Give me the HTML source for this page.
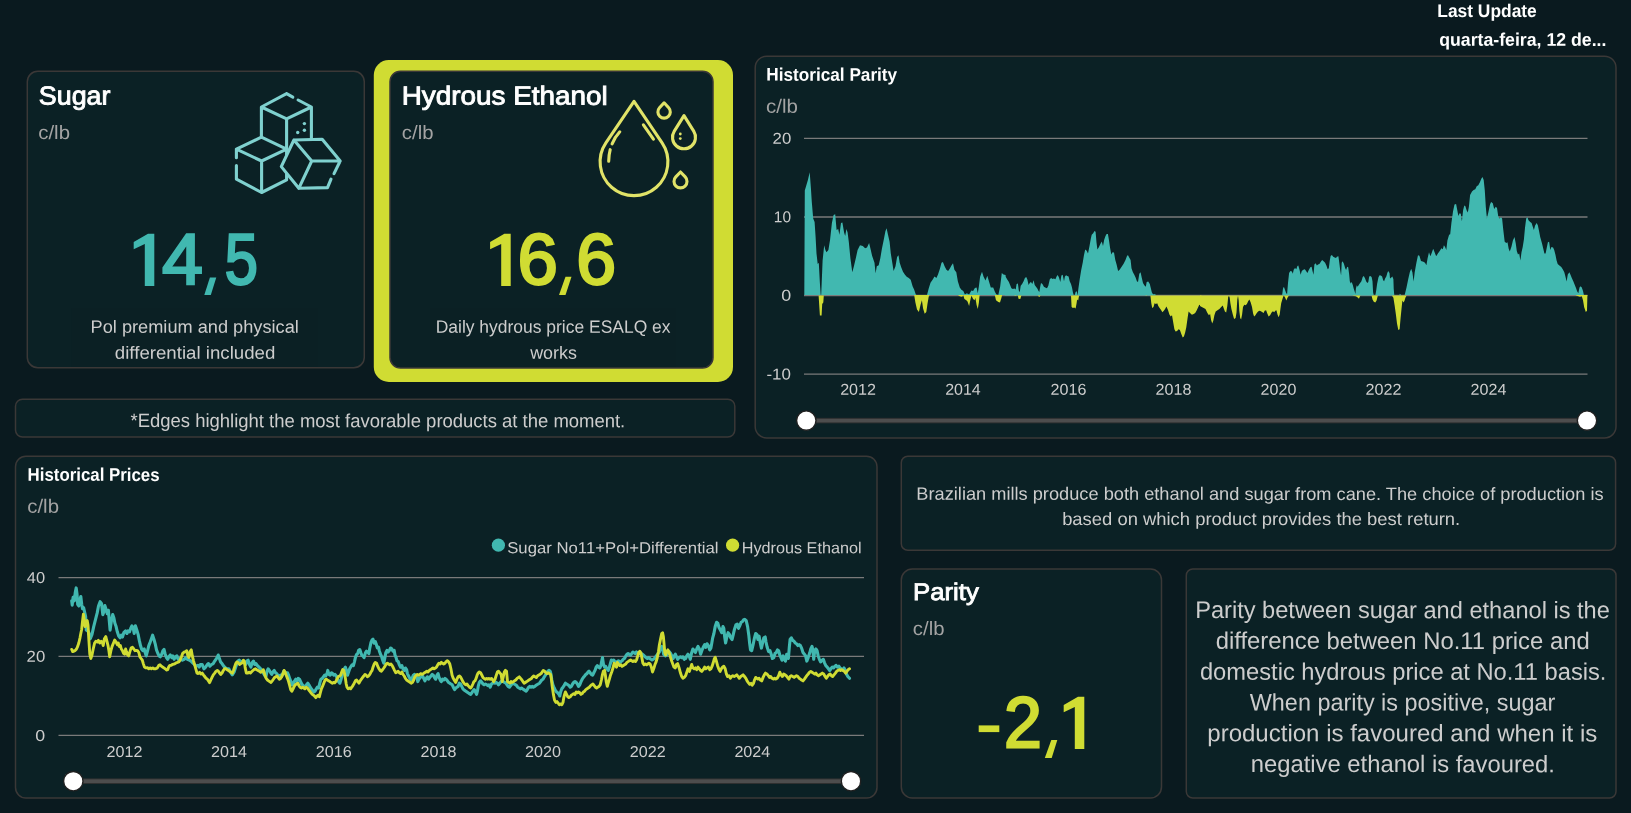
<!DOCTYPE html><html><head><meta charset="utf-8"><title>Sugar vs Ethanol Parity</title><style>

html,body{margin:0;padding:0;}
body{width:1631px;height:813px;overflow:hidden;background:#0a1a1f;font-family:"Liberation Sans",sans-serif;position:relative;}
.card{position:absolute;box-sizing:border-box;background:#0b2125;border:1px solid #3b3837;}
.t{position:absolute;white-space:nowrap;line-height:1;transform-origin:0 0;font-family:"Liberation Sans",sans-serif;}
svg{position:absolute;left:0;top:0;}

</style></head><body>
<svg width="1631" height="813" viewBox="0 0 1631 813"><rect x="27.3" y="71.3" width="337.0" height="296.4" rx="10.5" fill="#0b2125" stroke="#3b3837" stroke-width="1.5"/><rect x="373.8" y="60" width="359.2" height="322" rx="15" fill="#d0dc33"/><rect x="390" y="71.2" width="323" height="296.8" rx="10.5" fill="#0b2125" stroke="#3b3837" stroke-width="1.5"/><rect x="15.5" y="399.2" width="719.3" height="37.80000000000001" rx="7" fill="#0b2125" stroke="#3b3837" stroke-width="1.5"/><rect x="755.2" y="56.2" width="860.8" height="381.8" rx="11.5" fill="#0b2125" stroke="#3b3837" stroke-width="1.5"/><rect x="15.5" y="456.2" width="861.5" height="341.8" rx="10.5" fill="#0b2125" stroke="#3b3837" stroke-width="1.5"/><rect x="901.3" y="456.2" width="714.3" height="94.09999999999997" rx="6.5" fill="#0b2125" stroke="#3b3837" stroke-width="1.5"/><rect x="901.3" y="569" width="260.20000000000005" height="229" rx="11" fill="#0b2125" stroke="#3b3837" stroke-width="1.5"/><rect x="1186.3" y="569" width="429.70000000000005" height="229" rx="6.5" fill="#0b2125" stroke="#3b3837" stroke-width="1.5"/><rect x="71.5" y="308" width="246.5" height="58.5" fill="#0b2024"/><rect x="430" y="308" width="246" height="58.5" fill="#0b2024"/></svg>
<svg width="1631" height="813" viewBox="0 0 1631 813"><line x1="804" y1="138.4" x2="1587.5" y2="138.4" stroke="#7a7a7a" stroke-width="1.3"/><line x1="804" y1="217" x2="1587.5" y2="217" stroke="#7a7a7a" stroke-width="1.3"/><line x1="804" y1="295.5" x2="1587.5" y2="295.5" stroke="#7a7a7a" stroke-width="1.3"/><line x1="804" y1="374.1" x2="1587.5" y2="374.1" stroke="#7a7a7a" stroke-width="1.3"/><path d="M804.3,295.1 L804.8,190.4 L806.2,185.7 L807.9,179.9 L809.7,172.2 L810.9,188.0 L811.8,202.1 L813.2,218.4 L814.6,221.9 L815.6,237.1 L816.5,253.5 L817.7,264.0 L818.8,262.8 L819.8,281.5 L820.7,295.1Z" fill="#41b8b0"/><path d="M821.2,295.1 L822.6,260.5 L824.2,245.3 L825.4,250.0 L826.5,252.3 L828.4,250.0 L830.1,239.5 L831.9,223.1 L833.6,214.9 L835.2,214.2 L836.6,230.1 L838.2,228.9 L839.4,234.8 L841.0,223.1 L842.4,222.6 L844.1,232.4 L845.2,236.0 L846.4,228.9 L847.6,232.4 L848.8,241.8 L850.4,258.2 L852.3,272.2 L853.9,266.3 L855.8,258.2 L857.6,250.0 L860.0,245.3 L862.8,246.0 L865.1,248.3 L867.0,247.6 L869.1,243.0 L870.5,248.8 L872.1,255.8 L874.5,262.8 L875.6,273.3 L876.8,266.3 L878.7,265.2 L880.3,258.2 L881.9,248.8 L883.8,239.5 L885.4,231.3 L886.6,228.2 L888.0,234.8 L889.6,241.8 L890.8,253.5 L892.5,264.0 L893.6,271.0 L895.5,266.3 L897.1,257.0 L898.5,255.3 L899.7,262.8 L901.3,267.5 L903.0,271.7 L904.8,274.5 L906.7,276.8 L908.8,278.0 L910.7,279.7 L912.6,286.2 L914.2,289.7 L915.8,294.4 L916.5,295.1Z" fill="#41b8b0"/><path d="M927.0,295.1 L928.7,288.5 L930.5,282.7 L932.9,279.2 L934.5,276.4 L936.4,278.0 L938.0,274.5 L939.9,268.7 L941.5,262.8 L942.9,262.1 L944.6,266.3 L946.4,269.8 L948.1,271.0 L949.7,268.7 L951.6,265.2 L953.0,263.3 L954.4,269.8 L956.3,272.2 L957.9,281.5 L959.8,287.4 L961.4,289.7 L963.3,290.9 L964.9,294.4 L966.8,293.2 L969.1,294.4 L971.4,290.4 L973.1,290.9 L974.9,288.1 L976.6,287.4 L977.8,293.2 L978.9,286.2 L980.1,276.8 L982.0,271.7 L983.6,276.8 L985.5,280.4 L987.3,275.7 L989.0,281.5 L990.8,287.4 L993.2,287.4 L995.0,292.0 L996.4,294.4 L998.3,295.1Z" fill="#41b8b0"/><path d="M998.3,295.1 L1000.2,286.2 L1001.8,272.9 L1003.5,274.5 L1005.6,275.0 L1005.6,295.1Z" fill="#41b8b0"/><path d="M1004.8,295.4 L1004.8,276.0 L1006.1,277.5 L1007.4,279.7 L1008.9,282.1 L1010.1,284.9 L1011.4,288.2 L1012.9,288.9 L1014.4,288.6 L1015.7,289.5 L1016.6,283.9 L1017.9,283.4 L1018.8,290.4 L1019.7,292.3 L1020.7,285.8 L1022.1,283.9 L1023.6,281.2 L1024.9,277.9 L1026.2,277.1 L1027.3,279.3 L1028.6,284.9 L1029.9,282.7 L1031.0,282.1 L1032.3,283.9 L1033.6,280.3 L1034.7,284.9 L1036.0,286.7 L1037.3,288.6 L1038.4,290.8 L1039.3,291.9 L1040.2,286.7 L1041.0,283.0 L1042.4,283.9 L1043.9,286.7 L1045.2,287.6 L1047.0,288.2 L1048.3,285.8 L1049.8,279.3 L1051.1,277.9 L1052.6,279.0 L1053.9,278.4 L1055.4,279.3 L1056.6,276.6 L1057.7,275.1 L1059.0,277.5 L1060.3,282.1 L1061.4,275.6 L1062.7,274.7 L1064.0,281.2 L1064.9,276.6 L1066.1,275.3 L1067.3,276.0 L1068.6,276.6 L1069.7,281.2 L1071.0,283.9 L1072.0,287.6 L1072.9,292.3 L1073.8,295.4Z" fill="#41b8b0"/><path d="M1074.7,295.4 L1075.6,291.9 L1076.8,291.3 L1077.5,295.4Z" fill="#41b8b0"/><path d="M1077.5,295.4 L1078.4,288.6 L1079.7,279.3 L1081.2,270.1 L1082.7,262.7 L1083.9,255.4 L1085.2,249.4 L1086.7,250.7 L1088.0,253.5 L1089.5,246.1 L1090.8,238.7 L1091.7,234.7 L1093.2,233.2 L1094.5,231.0 L1095.6,231.7 L1096.5,242.4 L1097.4,249.4 L1098.7,247.6 L1100.6,243.4 L1101.8,241.5 L1103.0,246.1 L1104.2,239.7 L1105.5,236.0 L1106.6,234.1 L1107.9,234.1 L1108.9,239.7 L1110.1,248.0 L1111.3,254.4 L1112.5,252.2 L1114.0,252.6 L1115.3,260.0 L1116.6,264.6 L1118.1,271.0 L1119.6,269.7 L1121.8,266.4 L1123.6,263.7 L1125.5,260.0 L1126.9,256.3 L1127.9,255.0 L1129.2,257.6 L1130.6,260.0 L1131.5,268.3 L1132.8,272.0 L1134.3,274.7 L1135.6,277.5 L1136.9,281.2 L1138.0,282.1 L1139.3,273.8 L1140.6,272.3 L1141.7,277.5 L1143.0,283.0 L1144.3,285.2 L1145.8,286.7 L1146.7,282.1 L1148.2,281.5 L1149.8,283.9 L1150.9,288.6 L1151.8,292.3 L1152.8,294.1 L1154.1,294.5 L1155.0,293.7 L1155.9,295.4Z" fill="#41b8b0"/><path d="M1282.1,295.4 L1283.0,288.6 L1283.9,286.7 L1285.2,290.4 L1286.2,293.2 L1287.1,294.1 L1288.0,283.0 L1289.1,272.9 L1290.4,271.0 L1291.9,271.6 L1292.8,273.8 L1293.7,269.7 L1295.0,267.9 L1296.3,269.2 L1297.4,266.1 L1298.3,265.5 L1299.6,270.1 L1300.6,274.7 L1301.8,271.0 L1303.3,269.7 L1304.8,269.2 L1306.1,271.0 L1307.4,272.9 L1308.9,269.7 L1310.3,267.3 L1311.6,266.8 L1312.5,271.0 L1313.5,274.7 L1314.4,264.6 L1315.7,263.3 L1316.8,265.5 L1318.1,264.6 L1319.6,263.7 L1320.8,261.8 L1322.1,260.0 L1323.6,261.3 L1325.1,262.7 L1326.4,265.5 L1327.7,269.2 L1328.8,268.3 L1329.7,260.9 L1330.6,255.9 L1331.9,255.0 L1333.2,256.8 L1334.7,257.6 L1336.0,258.1 L1336.9,256.8 L1338.4,256.3 L1339.3,262.7 L1340.2,270.1 L1341.1,275.6 L1341.7,262.7 L1342.6,261.3 L1343.9,263.7 L1345.2,268.3 L1346.1,270.1 L1347.2,266.8 L1348.2,267.3 L1349.1,273.8 L1349.8,281.2 L1350.7,283.4 L1351.7,282.1 L1352.8,284.9 L1353.7,288.6 L1354.6,291.3 L1355.4,294.1 L1355.9,288.6 L1356.8,285.2 L1357.7,286.7 L1358.7,284.9 L1360.1,283.0 L1361.4,281.2 L1362.7,277.1 L1363.8,276.0 L1365.1,278.4 L1366.1,281.2 L1367.3,283.0 L1368.3,282.1 L1369.2,276.6 L1370.3,276.0 L1371.6,277.1 L1372.5,281.2 L1373.1,292.3 L1373.8,295.4Z" fill="#41b8b0"/><path d="M1375.3,295.4 L1376.2,290.4 L1377.1,283.9 L1378.4,277.5 L1379.5,275.3 L1380.8,275.6 L1382.1,276.6 L1383.2,280.3 L1384.1,281.2 L1385.1,278.4 L1386.3,276.6 L1387.3,272.9 L1388.2,271.0 L1389.5,272.9 L1390.0,278.4 L1391.3,277.5 L1392.4,276.6 L1393.4,279.3 L1393.7,288.6 L1394.3,295.4Z" fill="#41b8b0"/><path d="M1399.3,295.4 L1399.8,293.7 L1400.7,294.5 L1401.1,295.4Z" fill="#41b8b0"/><path d="M1404.7,295.1 L1406.5,287.4 L1408.2,279.2 L1409.8,272.2 L1411.2,268.7 L1412.4,272.2 L1413.6,281.5 L1414.7,272.2 L1416.4,262.8 L1418.0,255.3 L1419.4,255.8 L1421.0,261.0 L1423.4,261.7 L1425.0,262.8 L1426.4,265.2 L1427.6,258.2 L1429.0,252.3 L1430.4,256.3 L1431.5,253.5 L1433.2,248.8 L1434.6,252.3 L1436.2,256.3 L1437.9,253.5 L1439.7,251.1 L1441.4,248.3 L1442.8,249.3 L1443.9,245.3 L1445.1,246.9 L1446.3,250.0 L1447.4,240.6 L1449.1,234.8 L1450.2,234.3 L1451.4,223.1 L1453.0,211.4 L1454.5,204.4 L1456.1,203.9 L1457.3,210.2 L1458.4,216.1 L1459.6,213.3 L1460.8,213.8 L1461.9,221.2 L1463.1,210.2 L1464.3,205.6 L1465.4,206.3 L1466.6,210.2 L1467.8,212.6 L1468.9,206.7 L1470.1,195.1 L1472.0,191.5 L1473.6,189.9 L1475.3,189.2 L1476.7,186.2 L1478.3,185.2 L1479.9,182.2 L1481.3,178.7 L1482.5,177.1 L1483.7,179.9 L1484.8,190.4 L1485.8,206.7 L1486.9,218.4 L1488.3,212.6 L1490.0,204.4 L1491.1,202.1 L1492.8,203.2 L1494.2,209.1 L1495.8,206.7 L1497.0,207.9 L1498.2,216.1 L1499.3,218.4 L1501.0,217.3 L1502.1,218.4 L1503.3,230.1 L1504.7,241.8 L1506.3,243.0 L1507.5,242.3 L1508.7,248.8 L1509.8,251.6 L1511.5,246.5 L1512.9,240.6 L1514.5,237.1 L1515.7,243.0 L1516.8,251.1 L1518.0,254.6 L1519.2,253.5 L1520.4,260.5 L1521.5,252.3 L1522.7,246.9 L1523.9,239.5 L1525.0,227.8 L1526.2,218.4 L1527.4,217.3 L1528.5,220.3 L1530.2,221.9 L1531.6,223.1 L1532.7,226.6 L1533.9,230.1 L1535.1,225.4 L1536.7,223.1 L1537.9,225.4 L1539.1,231.3 L1540.2,237.1 L1541.9,243.0 L1543.3,248.8 L1544.4,253.5 L1545.6,253.5 L1546.8,247.6 L1547.9,242.3 L1549.1,241.8 L1550.3,250.0 L1551.4,246.9 L1553.1,247.6 L1554.2,250.0 L1555.4,254.6 L1556.6,260.5 L1557.7,264.0 L1559.4,265.6 L1561.3,267.0 L1562.9,269.4 L1564.3,272.2 L1565.5,276.8 L1566.6,281.5 L1567.8,274.5 L1569.4,272.2 L1570.6,275.0 L1571.8,278.0 L1573.4,281.5 L1574.8,285.0 L1576.0,288.1 L1577.1,291.3 L1578.3,293.2 L1579.5,287.4 L1580.6,286.2 L1581.8,287.4 L1583.0,290.9 L1583.9,295.1Z" fill="#41b8b0"/><path d="M818.6,295.4 L819.4,308.0 L819.9,315.6 L821.6,315.6 L822.2,304.0 L823.3,302.5 L823.8,295.4Z" fill="#d0dc33"/><path d="M914.2,295.1 L915.4,302.6 L917.0,309.6 L918.9,311.9 L920.5,304.9 L921.9,300.2 L923.1,308.4 L924.7,313.8 L926.3,311.9 L927.5,303.7 L928.7,296.7 L929.4,295.1Z" fill="#d0dc33"/><path d="M957.9,295.1 L959.8,296.2 L962.1,296.7 L963.3,295.1Z" fill="#d0dc33"/><path d="M963.3,295.1 L964.4,299.1 L966.3,300.2 L967.5,301.4 L969.1,306.1 L970.3,300.2 L971.4,295.5 L973.1,299.1 L974.5,300.2 L975.4,297.9 L976.6,304.9 L977.8,309.1 L978.9,302.6 L979.6,295.1Z" fill="#d0dc33"/><path d="M994.8,295.1 L996.0,300.2 L998.3,302.1 L1000.0,302.6 L1001.4,297.9 L1002.1,295.1Z" fill="#d0dc33"/><path d="M1071.0,295.4 L1071.6,307.0 L1072.9,307.9 L1074.2,307.6 L1075.6,308.5 L1076.6,303.3 L1077.1,299.6 L1078.2,300.6 L1079.0,295.9 L1079.3,295.4Z" fill="#d0dc33"/><path d="M1013.8,295.4 L1015.7,296.1 L1016.6,295.4Z" fill="#d0dc33"/><path d="M1017.9,295.4 L1018.5,298.7 L1020.3,299.1 L1021.2,295.9 L1021.6,295.4Z" fill="#d0dc33"/><path d="M1037.8,295.4 L1039.1,297.0 L1040.6,295.4Z" fill="#d0dc33"/><path d="M1145.4,295.4 L1146.1,296.1 L1147.0,295.4Z" fill="#d0dc33"/><path d="M1150.4,295.4 L1151.3,303.3 L1152.2,307.9 L1153.5,307.0 L1154.6,303.3 L1155.9,303.9 L1157.2,303.3 L1158.3,306.1 L1159.6,307.9 L1160.9,309.8 L1162.4,312.2 L1163.8,310.7 L1165.1,308.9 L1166.4,306.6 L1167.9,309.8 L1169.4,314.4 L1170.7,316.6 L1172.0,315.3 L1173.1,321.8 L1174.4,329.2 L1175.6,331.4 L1177.1,331.0 L1178.6,329.2 L1179.9,330.1 L1181.2,333.8 L1182.7,337.5 L1183.9,336.5 L1185.1,332.8 L1186.3,327.3 L1187.6,318.1 L1188.6,311.6 L1190.0,312.9 L1191.9,314.8 L1193.7,314.0 L1195.2,312.9 L1196.5,310.7 L1197.8,307.9 L1199.3,304.8 L1200.7,305.5 L1201.5,306.3 L1201.5,295.4Z" fill="#d0dc33"/><path d="M1200.0,295.4 L1200.0,306.1 L1201.8,307.0 L1203.7,307.9 L1205.5,308.9 L1207.4,312.9 L1208.9,315.3 L1210.1,314.0 L1211.1,319.9 L1212.2,323.6 L1213.3,320.8 L1214.4,315.3 L1215.7,311.6 L1217.5,310.3 L1219.4,308.9 L1221.2,307.0 L1222.7,305.5 L1224.0,308.9 L1224.9,311.6 L1226.2,312.5 L1227.3,306.1 L1228.2,296.9 L1229.0,295.8 L1229.7,297.8 L1230.4,303.3 L1231.4,308.9 L1232.8,314.4 L1234.1,319.0 L1235.6,318.1 L1236.5,312.5 L1237.3,299.6 L1238.0,295.8 L1238.7,300.6 L1239.3,310.7 L1240.2,318.1 L1241.1,319.6 L1242.1,314.4 L1243.0,307.0 L1244.3,304.8 L1245.8,305.2 L1247.0,303.7 L1248.3,301.1 L1249.4,299.6 L1250.7,302.4 L1252.0,307.0 L1253.1,313.5 L1254.1,316.6 L1255.4,315.3 L1256.8,312.9 L1258.1,311.6 L1259.4,310.7 L1260.9,311.3 L1262.4,312.2 L1263.7,312.9 L1264.6,310.7 L1266.1,310.3 L1267.3,313.5 L1268.6,316.6 L1270.1,315.3 L1271.6,312.5 L1272.9,311.3 L1274.2,312.2 L1275.3,310.7 L1276.4,310.3 L1277.5,314.4 L1278.6,317.2 L1279.7,314.4 L1280.4,308.9 L1281.2,303.3 L1282.3,299.6 L1283.4,295.9 L1283.9,295.4Z" fill="#d0dc33"/><path d="M1283.9,295.4 L1285.2,297.8 L1286.3,300.6 L1287.5,297.8 L1288.6,295.9 L1289.5,295.4Z" fill="#d0dc33"/><path d="M1352.2,295.4 L1354.1,295.9 L1355.9,296.3 L1357.7,297.4 L1359.0,298.7 L1360.1,295.9 L1360.5,295.4Z" fill="#d0dc33"/><path d="M1371.6,295.4 L1372.5,299.6 L1373.8,301.8 L1375.3,302.4 L1376.6,300.6 L1377.7,295.9 L1378.0,295.4Z" fill="#d0dc33"/><path d="M1391.9,295.4 L1393.4,297.8 L1394.6,305.2 L1395.9,314.4 L1397.0,323.6 L1398.3,330.1 L1399.6,329.2 L1400.6,318.1 L1401.5,308.9 L1402.4,300.6 L1403.5,302.4 L1404.4,301.1 L1405.4,297.8 L1406.6,295.4Z" fill="#d0dc33"/><path d="M1575.3,295.1 L1577.6,296.0 L1579.9,296.7 L1581.8,296.2 L1583.0,300.2 L1584.2,307.2 L1585.8,311.9 L1587.0,310.7 L1587.4,295.1Z" fill="#d0dc33"/><rect x="806.3" y="418.3" width="780.7" height="4.6" fill="#4d4d4d" stroke="#303030" stroke-width="0.9"/><circle cx="806.3" cy="420.6" r="9.7" fill="#ffffff" stroke="#202020" stroke-width="1.4"/><circle cx="1587" cy="420.6" r="9.7" fill="#ffffff" stroke="#202020" stroke-width="1.4"/><rect x="73.3" y="778.9000000000001" width="777.7" height="4.6" fill="#4d4d4d" stroke="#303030" stroke-width="0.9"/><circle cx="73.3" cy="781.2" r="9.7" fill="#ffffff" stroke="#202020" stroke-width="1.4"/><circle cx="851" cy="781.2" r="9.7" fill="#ffffff" stroke="#202020" stroke-width="1.4"/><line x1="58.5" y1="577.7" x2="864" y2="577.7" stroke="#7a7a7a" stroke-width="1.3"/><line x1="58.5" y1="656.4" x2="864" y2="656.4" stroke="#7a7a7a" stroke-width="1.3"/><line x1="58.5" y1="735.3" x2="864" y2="735.3" stroke="#7a7a7a" stroke-width="1.3"/><path d="M71.7,600.8 L72.2,605.1 L73.1,597.4 L74.3,600.8 L75.3,592.2 L76.2,587.9 L77.0,593.9 L77.7,604.3 L78.8,606.0 L79.6,600.8 L80.8,596.5 L81.7,604.3 L82.5,608.6 L83.6,607.7 L84.6,612.0 L85.6,616.3 L86.3,630.1 L88.6,631.8 L90.3,638.7 L92.0,634.4 L93.7,626.6 L95.4,619.8 L97.2,612.9 L98.5,606.0 L100.1,601.7 L101.5,603.4 L102.8,614.6 L104.1,611.1 L104.9,605.6 L106.1,609.4 L107.2,613.7 L108.4,610.3 L109.2,619.8 L110.1,630.1 L111.3,621.5 L112.7,614.6 L113.9,618.0 L114.9,623.2 L116.1,626.6 L117.3,631.8 L118.7,636.1 L120.1,637.8 L121.3,635.2 L122.5,637.0 L123.8,632.7 L125.6,630.9 L126.9,633.5 L128.1,630.9 L129.5,631.8 L130.7,628.4 L131.9,625.8 L133.3,628.4 L134.2,633.5 L135.4,625.8 L136.8,630.1 L138.1,634.4 L139.3,640.4 L140.5,645.6 L141.6,649.0 L142.8,650.7 L144.2,649.0 L145.4,653.3 L146.2,655.9 L147.6,650.7 L148.8,645.6 L150.2,642.1 L151.4,638.7 L152.6,635.2 L154.0,639.5 L155.2,643.8 L156.5,649.9 L157.8,653.3 L159.1,655.9 L160.3,656.8 L161.7,654.2 L162.9,650.7 L164.0,649.4 L165.2,654.2 L166.5,657.6 L167.7,659.3 L168.9,656.8 L170.3,655.0 L171.7,657.6 L172.9,655.9 L174.1,659.3 L175.5,656.8 L176.9,655.9 L178.1,659.3 L179.3,658.5 L180.6,659.3 L182.4,660.2 L184.1,659.3 L185.8,657.6 L187.5,659.3 L189.3,660.2 L191.0,661.1 L192.7,662.8 L194.4,664.5 L196.1,666.2 L197.9,665.4 L199.2,667.1 L200.4,664.5 L202.2,664.5 L203.9,668.8 L205.6,667.1 L207.3,664.5 L208.5,663.6 L209.9,666.2 L211.6,664.5 L213.3,663.6 L214.7,661.1 L215.9,659.3 L217.1,657.6 L218.2,655.0 L219.4,658.5 L220.6,661.9 L222.0,663.6 L223.7,666.2 L225.4,667.9 L227.1,668.8 L228.8,668.8 L230.6,672.2 L232.3,674.8 L234.0,672.2 L235.4,667.9 L236.6,664.5 L238.0,661.1 L239.2,660.2 L240.9,661.9 L242.6,661.1 L244.3,662.8 L245.7,664.5 L246.9,661.1 L248.1,660.2 L249.5,664.5 L250.9,667.1 L252.1,662.8 L253.5,661.1 L254.7,664.5 L256.0,663.6 L257.2,665.4 L259.0,667.1 L260.7,668.8 L262.4,671.4 L264.6,675.2 L265.9,676.8 L267.0,671.2 L268.1,668.8 L269.4,670.4 L270.7,672.8 L271.8,674.4 L272.9,672.0 L274.2,670.4 L275.5,672.8 L276.6,673.6 L277.9,675.2 L279.0,676.0 L280.3,675.2 L281.4,676.8 L282.5,674.4 L283.8,671.2 L285.1,672.0 L286.2,674.4 L287.5,672.8 L288.6,675.2 L289.9,679.2 L291.0,681.6 L292.3,684.8 L293.4,683.2 L294.7,680.8 L295.8,679.2 L296.9,681.6 L298.2,678.4 L299.5,679.2 L300.6,681.6 L301.7,684.0 L303.0,685.6 L304.3,686.4 L305.4,687.2 L306.5,684.8 L307.8,683.2 L308.9,684.8 L310.2,687.2 L311.3,688.8 L312.6,690.4 L313.9,692.0 L315.0,691.2 L316.3,688.8 L317.4,687.2 L318.7,688.0 L319.8,683.2 L320.9,679.2 L322.2,678.4 L323.5,676.8 L324.6,675.2 L325.7,676.0 L327.0,673.6 L327.8,670.4 L328.9,674.4 L330.2,675.2 L331.5,672.8 L332.6,673.6 L333.7,675.2 L335.0,674.4 L336.3,676.0 L337.4,679.2 L338.5,681.6 L339.8,683.2 L341.1,679.2 L342.2,675.2 L343.3,671.2 L344.3,668.8 L345.4,667.2 L346.5,670.4 L347.5,675.2 L348.6,672.0 L349.7,668.8 L351.0,666.4 L352.2,664.8 L353.4,665.6 L354.5,661.6 L355.4,657.6 L356.6,654.4 L357.7,653.6 L358.6,650.4 L359.8,649.6 L360.9,652.8 L361.8,655.2 L363.0,656.0 L364.1,657.6 L365.4,652.8 L366.5,651.2 L367.8,652.0 L368.9,653.6 L369.8,648.0 L371.0,642.4 L372.1,640.0 L373.0,639.2 L374.2,643.2 L375.3,641.6 L376.2,644.0 L377.4,648.0 L378.5,647.2 L379.4,651.2 L380.6,654.4 L381.7,656.8 L382.6,660.0 L383.8,663.2 L384.9,657.6 L385.8,652.8 L387.0,650.4 L388.1,652.0 L389.4,650.4 L390.6,648.0 L391.8,648.8 L392.9,651.2 L394.2,650.4 L395.0,655.2 L396.1,657.6 L397.0,660.8 L398.2,661.6 L399.3,664.8 L400.6,667.2 L401.8,665.6 L403.0,668.8 L404.2,670.4 L405.4,668.0 L406.6,669.6 L407.4,673.6 L408.6,676.0 L409.8,678.4 L411.0,680.0 L412.1,678.4 L413.3,675.2 L414.6,674.4 L415.7,675.2 L416.9,677.6 L417.8,681.6 L418.9,679.2 L420.2,677.6 L421.3,676.8 L422.6,676.0 L423.7,678.4 L424.9,680.8 L426.1,678.4 L427.4,676.8 L428.5,679.2 L429.7,677.6 L430.9,676.0 L432.2,674.4 L433.3,675.2 L434.5,677.6 L435.7,679.2 L437.0,675.2 L438.1,673.6 L438.9,676.8 L440.2,680.0 L441.3,681.6 L442.5,679.2 L443.7,680.0 L445.0,678.4 L446.1,679.2 L447.4,680.8 L448.5,682.4 L449.8,683.2 L450.9,684.0 L452.2,684.8 L453.3,687.2 L454.6,689.6 L455.7,688.0 L456.9,687.2 L458.1,686.4 L459.4,683.2 L460.5,684.0 L461.7,686.4 L462.9,688.8 L464.6,690.4 L465.9,691.2 L467.0,692.0 L468.1,692.8 L469.4,693.6 L470.7,694.4 L471.8,692.8 L472.9,691.2 L474.2,689.6 L475.5,692.0 L476.6,694.4 L477.4,691.2 L478.2,686.4 L479.3,682.4 L480.6,680.8 L481.9,682.4 L483.0,684.0 L484.1,684.8 L485.4,684.0 L486.7,684.8 L487.8,685.6 L488.9,684.8 L490.2,687.2 L491.5,684.0 L492.6,683.2 L493.7,682.4 L495.0,683.2 L496.3,682.4 L497.4,683.2 L498.5,684.8 L499.8,683.2 L501.1,681.6 L502.2,680.8 L503.3,681.6 L504.6,682.4 L505.9,683.2 L507.0,684.8 L508.1,686.4 L509.4,687.2 L510.7,685.6 L511.8,684.0 L512.9,683.2 L514.2,684.0 L515.5,684.8 L516.6,685.6 L517.7,687.2 L519.0,688.0 L520.3,688.8 L521.4,688.0 L522.5,688.8 L523.8,689.6 L525.1,690.4 L526.2,691.2 L527.3,689.6 L528.6,687.2 L529.9,686.4 L531.0,687.2 L532.1,686.4 L533.4,687.2 L534.7,686.4 L535.8,685.6 L536.9,684.8 L538.2,684.0 L539.5,683.2 L540.6,681.6 L541.7,680.0 L543.0,679.2 L544.3,676.8 L545.4,675.2 L546.5,673.6 L547.8,671.2 L549.0,670.4 L550.2,671.2 L551.0,674.4 L551.8,680.0 L552.9,684.8 L554.2,688.0 L555.4,690.4 L556.6,692.0 L557.7,692.8 L559.0,694.4 L559.8,696.0 L560.6,692.0 L561.8,688.8 L563.0,687.2 L564.1,685.6 L565.4,683.2 L566.6,684.0 L567.8,684.8 L568.9,685.6 L570.2,687.2 L571.4,686.4 L572.6,684.0 L573.7,682.4 L575.0,681.6 L576.2,682.4 L577.4,684.0 L578.5,686.4 L579.8,684.8 L581.0,681.6 L582.2,679.2 L583.3,677.6 L584.6,676.0 L585.8,674.4 L587.0,673.6 L588.1,672.0 L589.0,671.2 L590.2,672.8 L591.3,674.4 L592.6,675.2 L593.8,672.8 L595.0,670.4 L596.1,667.2 L597.4,665.6 L598.6,667.2 L599.8,668.0 L600.9,665.6 L601.8,660.8 L602.5,657.6 L603.4,664.0 L604.6,667.2 L605.7,666.4 L607.0,668.8 L608.2,670.4 L609.4,667.2 L610.5,663.2 L611.4,660.0 L612.5,660.8 L613.7,660.0 L614.9,661.6 L616.2,662.4 L617.3,661.6 L618.5,660.8 L619.7,662.4 L621.0,661.6 L622.1,660.8 L623.3,659.2 L624.5,658.4 L625.8,656.0 L626.9,654.4 L628.1,653.6 L629.3,654.4 L630.6,655.2 L631.7,653.6 L632.9,652.0 L634.1,652.8 L635.4,653.6 L636.5,652.0 L637.7,652.8 L638.9,653.6 L640.2,652.8 L641.3,653.6 L642.5,654.4 L643.7,655.2 L645.0,656.8 L646.1,657.6 L647.3,658.4 L648.5,657.6 L649.8,658.4 L650.9,659.2 L652.1,660.0 L653.3,659.2 L654.6,658.4 L655.7,656.8 L656.9,655.2 L658.1,653.6 L659.4,652.0 L660.5,648.8 L661.7,646.4 L662.6,648.0 L663.7,654.4 L665.3,655.9 L666.7,655.0 L667.9,653.3 L669.1,651.6 L670.5,653.3 L671.9,655.9 L673.1,658.5 L674.3,655.9 L675.3,654.2 L676.5,656.8 L677.7,659.3 L679.1,657.6 L680.5,656.8 L681.7,657.6 L682.9,656.8 L684.3,659.3 L685.6,658.5 L686.8,655.9 L688.0,654.2 L689.4,656.8 L690.3,659.3 L691.5,653.3 L692.9,649.0 L694.2,650.7 L695.4,652.5 L696.7,649.0 L698.0,646.4 L699.4,649.0 L700.6,654.2 L701.8,650.7 L703.2,647.3 L704.6,644.7 L705.8,647.3 L707.0,643.8 L708.4,645.6 L709.7,649.9 L710.9,648.1 L711.8,643.0 L712.7,637.8 L713.9,633.5 L715.2,626.6 L716.6,622.3 L717.8,623.2 L719.0,627.5 L720.4,630.1 L721.8,632.7 L723.0,626.6 L723.8,628.4 L724.7,637.0 L725.6,643.0 L726.9,637.0 L728.1,632.7 L729.4,634.4 L730.7,637.8 L732.1,639.5 L733.3,634.4 L734.5,629.2 L735.9,624.9 L737.3,624.1 L738.5,628.4 L739.7,625.8 L741.1,622.3 L742.4,621.5 L743.6,619.8 L744.8,619.4 L746.2,620.6 L747.6,626.6 L748.8,635.2 L749.7,643.8 L750.5,649.9 L751.7,650.7 L753.1,644.7 L754.5,637.8 L755.7,633.5 L756.9,634.4 L757.9,639.5 L759.1,636.1 L760.3,643.0 L761.4,648.1 L762.6,643.0 L763.8,637.8 L765.2,637.0 L766.0,642.1 L767.2,647.3 L768.6,651.6 L770.0,650.7 L771.2,654.2 L772.4,658.5 L773.8,657.6 L775.1,653.3 L776.3,652.5 L777.5,649.9 L778.6,650.7 L779.8,655.0 L781.0,657.6 L782.0,660.2 L783.2,655.9 L784.4,659.3 L785.5,661.1 L786.7,654.2 L787.5,655.9 L788.4,658.5 L789.3,647.3 L790.1,639.5 L791.3,637.8 L792.7,640.4 L794.1,641.3 L795.3,643.0 L796.5,643.8 L797.9,645.6 L799.2,644.7 L800.4,645.6 L801.6,648.1 L803.0,652.5 L804.4,654.2 L805.6,655.9 L806.8,661.1 L808.2,657.6 L809.6,653.3 L810.8,649.0 L812.0,646.4 L813.0,650.7 L813.7,659.3 L814.7,650.7 L815.9,649.0 L817.1,650.7 L818.2,655.9 L819.4,659.3 L820.6,661.9 L822.0,660.2 L823.3,659.3 L824.5,662.8 L825.7,665.4 L827.1,667.1 L828.5,668.8 L829.7,670.5 L830.9,668.8 L832.3,667.1 L833.7,667.9 L834.9,666.2 L836.1,665.4 L837.4,667.1 L838.8,666.2 L840.0,667.9 L841.2,668.8 L842.6,669.7 L844.0,667.9 L845.2,670.5 L846.4,674.0 L847.8,676.5 L849.5,678.3" fill="none" stroke="#41b8b0" stroke-width="3.1" stroke-linejoin="round" stroke-linecap="round"/><path d="M71.7,649.4 L72.7,651.6 L73.9,651.1 L75.3,650.4 L76.5,649.0 L77.7,646.4 L78.8,643.0 L80.0,637.8 L80.8,633.5 L81.7,629.2 L82.5,621.5 L83.4,614.2 L84.3,619.8 L85.1,626.6 L86.0,624.1 L87.2,620.6 L88.0,624.9 L88.9,640.4 L89.8,654.2 L90.8,658.5 L92.0,655.0 L93.2,649.0 L94.6,643.0 L95.8,641.3 L97.2,642.1 L98.4,640.4 L99.8,643.0 L101.1,641.3 L102.3,642.1 L103.2,645.6 L104.4,638.7 L105.8,636.6 L107.0,641.3 L108.0,645.6 L108.9,650.7 L109.7,656.8 L110.9,650.7 L112.1,646.4 L113.5,643.0 L114.7,640.1 L116.1,642.1 L117.3,644.7 L118.3,643.0 L119.2,646.4 L120.4,645.6 L121.3,649.0 L122.5,650.7 L123.5,653.3 L124.7,654.2 L125.6,649.0 L126.4,651.6 L127.6,655.0 L128.7,655.9 L129.9,651.6 L131.1,648.1 L132.5,647.3 L133.8,649.0 L135.0,650.7 L136.2,650.4 L137.6,650.7 L138.8,652.5 L139.9,656.8 L141.1,658.5 L142.3,660.2 L143.3,663.6 L144.5,667.1 L145.9,667.9 L147.4,667.6 L148.8,668.8 L150.2,667.9 L151.4,668.8 L152.8,667.9 L154.0,668.8 L155.7,668.8 L157.4,667.9 L158.8,665.4 L160.0,664.8 L161.4,666.2 L162.6,667.1 L164.0,667.9 L165.2,668.8 L166.5,670.0 L167.7,669.7 L168.6,667.1 L169.8,665.4 L171.2,665.4 L172.4,664.5 L173.8,664.2 L175.1,663.6 L176.3,662.8 L177.5,662.4 L178.9,661.9 L180.1,660.2 L181.5,656.8 L182.7,653.3 L184.1,652.1 L185.5,651.6 L186.7,650.7 L187.9,655.9 L188.9,657.6 L190.1,651.6 L191.3,649.9 L192.3,655.9 L193.6,661.1 L194.8,665.4 L195.8,668.8 L197.0,673.1 L198.2,673.5 L199.6,672.2 L200.8,674.0 L202.2,673.1 L203.4,674.8 L204.7,676.5 L206.1,678.3 L207.3,679.1 L208.5,680.9 L209.6,682.6 L210.8,680.0 L212.0,677.4 L213.3,674.8 L214.7,673.1 L215.9,671.4 L217.3,670.5 L218.5,671.4 L219.7,673.1 L220.7,674.5 L222.0,673.1 L223.3,670.5 L224.5,668.8 L225.9,668.8 L227.1,669.7 L228.5,670.5 L229.7,671.4 L230.9,672.2 L232.3,673.1 L233.5,670.5 L234.5,667.1 L235.7,663.6 L236.9,661.9 L238.3,662.8 L239.5,664.5 L240.9,663.6 L242.3,662.8 L243.5,660.2 L244.3,661.1 L245.2,667.9 L246.4,673.1 L247.8,673.1 L249.1,672.2 L250.4,673.1 L251.6,671.7 L252.9,670.5 L254.3,669.3 L255.5,668.8 L256.7,669.7 L258.1,670.5 L259.5,671.4 L260.7,672.2 L262.1,671.4 L263.3,669.7 L264.9,675.2 L266.2,678.4 L267.5,680.0 L268.6,680.8 L269.7,681.6 L271.0,682.4 L272.3,680.8 L273.4,679.2 L274.5,677.6 L275.8,676.8 L277.1,676.0 L278.2,677.6 L279.3,679.2 L280.6,678.4 L281.7,676.8 L283.0,673.6 L284.1,670.4 L285.1,672.0 L286.2,675.2 L287.5,678.4 L288.6,681.6 L289.7,685.6 L290.7,689.6 L291.8,691.2 L293.1,688.8 L294.2,686.4 L295.3,684.8 L296.6,684.0 L297.9,683.2 L299.0,685.6 L300.1,687.2 L301.4,688.0 L302.7,687.2 L303.8,688.0 L304.9,688.8 L306.2,687.2 L307.5,688.0 L308.6,689.6 L309.7,691.2 L311.0,692.8 L312.3,694.4 L313.4,695.2 L314.5,696.0 L315.8,697.6 L317.1,696.0 L318.2,695.2 L319.3,696.8 L320.3,692.8 L321.4,688.8 L322.5,686.4 L323.8,683.2 L325.1,680.0 L326.2,679.2 L327.3,680.0 L328.6,680.8 L329.9,681.6 L331.0,682.4 L332.1,683.2 L333.4,682.4 L334.7,682.9 L335.8,681.6 L336.9,679.2 L338.2,676.8 L339.5,676.0 L340.6,675.2 L341.7,672.0 L342.7,669.6 L343.8,670.4 L344.6,673.6 L345.4,678.4 L346.2,684.0 L347.0,687.2 L348.1,688.8 L349.4,688.0 L350.6,688.8 L351.8,687.2 L352.9,685.6 L354.2,683.2 L355.4,680.8 L356.6,680.0 L357.7,681.6 L359.0,683.2 L360.2,680.8 L361.4,679.2 L362.5,677.6 L363.8,676.0 L365.0,674.4 L366.2,675.2 L367.3,676.8 L368.6,676.0 L369.8,674.4 L371.0,672.0 L372.1,670.4 L373.0,667.2 L374.2,664.0 L375.3,662.4 L376.6,663.2 L377.8,666.4 L379.0,668.8 L380.1,670.4 L381.4,671.2 L382.6,669.6 L383.8,668.0 L384.9,666.4 L386.2,664.0 L387.4,663.2 L388.6,664.0 L389.7,664.8 L391.0,664.0 L392.2,665.6 L393.4,668.0 L394.5,670.4 L395.8,672.8 L397.0,672.0 L398.2,671.2 L399.3,672.8 L400.6,673.6 L401.8,672.0 L403.0,674.4 L404.2,676.0 L405.4,678.4 L406.6,680.0 L407.8,680.8 L408.9,681.6 L410.2,682.4 L411.4,683.2 L412.5,682.4 L413.7,680.0 L414.9,676.8 L416.2,675.2 L417.3,674.4 L418.5,675.2 L419.7,674.4 L421.0,673.6 L422.1,674.4 L423.3,673.6 L424.5,672.8 L425.8,672.0 L426.9,671.2 L428.1,672.0 L429.3,670.4 L430.6,669.6 L431.7,668.8 L432.9,668.0 L434.1,668.8 L435.4,668.0 L436.5,667.2 L437.7,664.8 L438.9,663.2 L440.2,664.0 L441.3,662.4 L442.5,663.2 L443.7,664.0 L445.0,663.2 L446.1,661.6 L447.3,660.8 L448.5,661.6 L449.8,664.0 L450.9,668.8 L452.1,675.2 L453.3,678.4 L454.6,680.8 L455.7,682.4 L456.9,679.2 L458.1,676.8 L459.4,676.0 L460.5,676.8 L461.7,679.2 L462.9,681.6 L464.6,684.0 L465.9,684.8 L467.0,684.0 L468.1,685.6 L469.4,687.2 L470.7,688.0 L471.8,686.4 L472.9,684.0 L473.9,681.6 L475.0,680.8 L476.1,678.4 L477.1,675.2 L478.2,672.8 L479.3,672.0 L480.6,672.8 L481.9,675.2 L483.0,677.6 L484.1,678.4 L485.4,679.2 L486.7,678.4 L487.8,679.2 L488.9,678.4 L490.2,679.2 L491.5,678.4 L492.6,680.0 L493.7,681.6 L495.0,679.2 L496.3,675.2 L497.4,672.0 L498.5,671.2 L499.8,672.8 L501.1,674.4 L502.2,681.6 L503.3,676.8 L504.3,672.0 L505.4,670.4 L506.5,671.2 L507.5,681.6 L508.6,682.4 L509.7,683.2 L511.0,681.6 L512.3,682.4 L513.4,681.6 L514.5,680.8 L515.8,680.0 L517.1,678.4 L518.2,677.6 L519.3,676.8 L520.6,678.4 L521.9,680.0 L523.0,681.6 L524.1,683.2 L525.4,682.4 L526.7,681.6 L527.8,680.8 L528.9,680.0 L530.2,679.2 L531.5,678.4 L532.6,676.8 L533.7,676.0 L535.0,676.8 L536.3,677.6 L537.4,676.0 L538.5,675.2 L539.8,674.4 L541.1,673.6 L542.2,672.0 L543.3,670.4 L544.6,671.2 L545.9,672.8 L547.0,673.6 L548.1,672.8 L549.4,673.6 L550.6,674.4 L551.3,678.4 L552.2,686.4 L553.4,694.4 L554.5,700.0 L555.8,702.4 L557.0,701.6 L558.2,703.2 L559.3,704.8 L560.6,704.0 L561.8,704.8 L563.0,702.4 L563.8,697.6 L564.6,694.4 L565.4,692.0 L566.6,694.4 L567.8,696.8 L568.9,697.6 L570.2,696.8 L571.4,695.2 L572.6,694.4 L573.7,693.6 L575.0,694.4 L576.2,692.0 L577.4,692.8 L578.5,692.0 L579.8,692.8 L581.0,694.4 L582.2,693.6 L583.3,692.0 L584.6,691.2 L585.8,689.6 L587.0,688.8 L588.1,688.0 L589.4,687.2 L590.6,685.6 L591.8,684.8 L592.9,684.0 L594.2,685.6 L595.4,687.2 L596.6,688.0 L597.7,687.2 L599.0,686.4 L600.2,684.8 L601.4,680.0 L602.5,674.4 L603.4,671.2 L604.6,670.4 L605.4,675.2 L606.2,681.6 L607.3,686.4 L608.2,683.2 L609.4,679.2 L610.5,675.2 L611.7,672.0 L613.0,668.0 L614.1,663.2 L615.3,665.6 L616.5,667.2 L617.3,662.4 L618.5,664.0 L619.7,665.6 L621.0,664.8 L622.1,666.4 L623.3,665.6 L624.5,664.8 L625.8,664.0 L626.9,662.4 L628.1,661.6 L629.3,660.8 L630.6,660.0 L631.7,660.8 L632.9,661.6 L634.1,660.8 L635.4,661.6 L636.5,660.0 L637.7,656.0 L638.6,652.8 L639.7,651.2 L640.9,652.8 L641.8,657.6 L642.9,663.2 L644.1,664.8 L645.3,664.0 L646.6,664.8 L647.7,664.0 L648.9,663.2 L650.1,664.0 L651.4,667.2 L652.5,672.0 L653.7,668.8 L654.9,664.8 L656.2,661.6 L657.3,657.6 L658.5,651.2 L659.4,644.8 L660.5,639.2 L661.7,633.6 L662.6,632.8 L663.4,636.8 L664.8,652.5 L665.7,655.0 L666.7,651.6 L667.9,649.9 L669.1,652.5 L670.1,655.9 L671.4,660.2 L672.6,663.6 L673.9,667.1 L675.3,667.9 L676.5,664.5 L677.7,663.6 L679.1,667.9 L680.5,673.1 L681.7,676.5 L682.9,678.3 L684.3,677.4 L685.6,675.7 L686.8,672.2 L688.0,668.8 L689.4,671.4 L690.6,667.9 L691.7,664.5 L692.9,667.9 L694.2,668.8 L695.4,667.9 L696.7,669.7 L698.0,667.1 L699.4,668.8 L700.6,670.5 L701.8,671.4 L703.2,669.7 L704.6,667.1 L705.8,668.8 L707.0,667.9 L708.4,667.1 L709.7,669.7 L710.9,668.8 L712.1,666.2 L713.2,662.8 L714.4,658.5 L715.2,657.3 L716.4,661.1 L717.5,665.4 L718.7,668.8 L720.1,671.4 L721.3,668.8 L722.5,667.1 L723.8,666.2 L725.2,668.8 L726.4,674.0 L727.6,676.5 L729.0,675.7 L730.4,678.3 L731.6,676.5 L732.8,675.7 L734.2,676.5 L735.6,675.7 L736.8,674.8 L738.0,676.5 L739.3,678.3 L740.7,676.5 L741.9,675.7 L743.1,674.8 L744.5,676.5 L745.9,678.3 L747.1,680.9 L748.3,682.6 L749.7,684.3 L751.0,683.4 L752.2,685.2 L753.5,683.4 L754.5,680.0 L755.7,677.4 L756.9,678.3 L757.9,679.1 L759.1,678.3 L760.3,680.0 L761.7,680.9 L763.1,677.4 L764.3,674.8 L765.5,673.1 L766.9,674.0 L768.3,675.7 L769.5,677.4 L770.7,676.5 L772.0,678.3 L773.4,679.1 L774.6,678.3 L775.8,679.1 L777.2,678.3 L778.6,675.7 L779.8,672.2 L781.0,674.8 L782.4,676.5 L783.7,674.0 L784.9,674.8 L786.2,675.7 L787.5,677.4 L788.9,679.1 L790.1,676.5 L791.3,675.7 L792.7,676.5 L794.1,677.4 L795.3,676.5 L796.5,675.7 L797.9,676.5 L799.2,678.3 L800.4,679.1 L801.6,680.0 L803.0,680.9 L804.4,679.1 L805.6,677.4 L806.8,675.7 L808.2,674.0 L809.6,672.2 L810.8,671.4 L812.0,672.2 L813.3,673.1 L814.7,674.0 L815.9,673.1 L817.1,674.8 L818.5,675.7 L819.9,674.8 L821.1,674.0 L822.3,673.1 L823.7,674.0 L825.1,676.5 L826.3,678.3 L827.5,676.5 L828.8,674.8 L830.2,674.0 L831.4,675.7 L832.6,676.5 L834.0,674.8 L835.4,673.1 L836.6,671.4 L837.8,670.5 L839.2,669.7 L840.5,670.5 L841.7,669.7 L843.0,670.5 L844.3,671.4 L845.7,673.1 L846.9,671.4 L848.1,669.7 L849.5,668.8" fill="none" stroke="#d0dc33" stroke-width="2.9" stroke-linejoin="round" stroke-linecap="round"/><circle cx="498.4" cy="545.2" r="6.6" fill="#41b8b0"/><circle cx="732.6" cy="545.2" r="6.6" fill="#d0dc33"/><g fill="none" stroke="#7fd1cf" stroke-width="3.1" stroke-linecap="round" stroke-linejoin="round"><path d="M286.6,93.7 L261.4,107 L286.6,118.9 L311.4,107 L298.1,100 M292.8,97.2 L286.6,93.7 M261.4,107 V137.2 M286.6,118.9 V147.7 M311.4,107 V137.9"/><path d="M261.4,137.2 L236.4,149.1 L261.6,161 L286.6,149.1 Z M261.6,161 V192.5 L236.4,179.2 V165.5 M236.4,157.8 V149.1 M261.6,192.5 L286.6,179.9 V149.1"/><path d="M293.9,140 L322.2,139.3 L340.2,161 L327.5,187.6 L298.8,188.3 L281.3,166.6 Z" fill="#0b2125" stroke="none"/><path d="M334.0,173.6 L340.2,161 L322.2,139.3 L293.9,140 L281.3,166.6 L298.8,188.3 L327.5,187.6 L331.0,179.2 M293.9,140 L311.7,161 L340.2,161 M311.7,161 L298.8,188.3"/></g><g fill="#7fd1cf"><circle cx="304.4" cy="123.6" r="1.7"/><circle cx="304.4" cy="130.2" r="1.7"/><circle cx="297.7" cy="132.5" r="1.7"/></g><g fill="none" stroke="#e1e368" stroke-width="3.1" stroke-linecap="round" stroke-linejoin="round"><path d="M634.0,101.4 L662.1,142.8 A33.9,33.9 0 1 1 605.9,142.8 Z"/><path d="M664.1,102.8 L668.7,107.8 A6.2,6.2 0 1 1 659.5,107.8 Z"/><path d="M684.0,115.6 L693.7,131.1 A11.5,11.5 0 1 1 674.3,131.1 Z"/><path d="M680.5,172.0 L685.2,176.9 A6.5,6.5 0 1 1 675.8,176.9 Z"/><path d="M643.4,124.8 L653.4,139.2 M619.8,131.8 Q615,137 612.1,143.8 M610.2,149.7 Q608.8,155 608.7,161.3"/></g><g fill="#e1e368"><circle cx="680.3" cy="134" r="1.4"/><circle cx="680.3" cy="138.6" r="1.4"/></g><path d="M154.3,233.8 L148.0,233.8 L133.7,242.1 L133.7,249.2 L144.8,243.9 L144.8,285.9 L154.3,285.9Z" fill="#41b8b0"/><path d="M209.9,277.6 L216.3,277.6 L210.8,295.1 L204.3,295.1Z" fill="#41b8b0"/><path d="M510.7,233.8 L504.4,233.8 L490.1,242.1 L490.1,249.2 L501.2,243.9 L501.2,285.9 L510.7,285.9Z" fill="#d0dc33"/><path d="M565.5,276.7 L571.5,276.7 L565.5,294.9 L559.0,294.9Z" fill="#d0dc33"/><path d="M1084.3,696.8 L1078.0,696.8 L1063.7,705.1 L1063.7,712.2 L1074.8,706.9 L1074.8,749.1 L1084.3,749.1Z" fill="#d0dc33"/><path d="M1051.3,740.1 L1057.3,740.1 L1051.7,757.9 L1044.8,757.9Z" fill="#d0dc33"/><rect x="978.7" y="725.4" width="20.6" height="6.7" fill="#d0dc33"/></svg>
<div style="position:absolute;left:0;top:0;width:1631px;height:813px;will-change:transform;">
<div class="t" style="left:39px;top:82px;font-size:25px;color:#ffffff;-webkit-text-stroke:0.86px #ffffff;transform:translate(-0.13px,0.69px) rotate(0.03deg) scale(1.0725,1.0402);">Sugar</div>
<div class="t" style="left:39px;top:122px;font-size:19px;color:#a3a3a3;transform:translate(-0.76px,0.69px) rotate(0.03deg) scale(1.0736,1.0130);">c/lb</div>
<div class="t" style="left:403px;top:82px;font-size:25px;color:#ffffff;-webkit-text-stroke:0.86px #ffffff;transform:translate(-1.28px,0.69px) rotate(0.03deg) scale(1.1146,1.0402);">Hydrous Ethanol</div>
<div class="t" style="left:402px;top:122px;font-size:19px;color:#a3a3a3;transform:translate(-0.14px,0.69px) rotate(0.03deg) scale(1.0697,1.0130);">c/lb</div>
<div class="t" style="left:162px;top:223px;font-size:69.5px;color:#41b8b0;-webkit-text-stroke:2.4px #41b8b0;transform:translate(0.12px,0.99px) rotate(0.03deg) scale(1.0567,1.0354);">4</div>
<div class="t" style="left:226px;top:223px;font-size:69.5px;color:#41b8b0;-webkit-text-stroke:2.4px #41b8b0;transform:translate(-1.29px,0.99px) rotate(0.03deg) scale(0.8586,1.0354);">5</div>
<div class="t" style="left:519px;top:223px;font-size:69.5px;color:#d0dc33;-webkit-text-stroke:2.4px #d0dc33;transform:translate(-1.54px,0.99px) rotate(0.03deg) scale(1.0437,1.0354);">6</div>
<div class="t" style="left:578px;top:223px;font-size:69.5px;color:#d0dc33;-webkit-text-stroke:2.4px #d0dc33;transform:translate(-1.81px,0.99px) rotate(0.03deg) scale(1.0298,1.0354);">6</div>
<div class="t" style="left:92px;top:318px;font-size:17px;color:#cdcdcd;transform:translate(-1.43px,0.01px) rotate(0.03deg) scale(1.0700,1.0457);">Pol premium and physical</div>
<div class="t" style="left:115px;top:344px;font-size:17px;color:#cdcdcd;transform:translate(-0.16px,0.01px) rotate(0.03deg) scale(1.0979,1.0457);">differential included</div>
<div class="t" style="left:437px;top:318px;font-size:17px;color:#cdcdcd;transform:translate(-1.28px,0.01px) rotate(0.03deg) scale(1.0270,1.0457);">Daily hydrous price ESALQ ex</div>
<div class="t" style="left:530px;top:344px;font-size:17px;color:#cdcdcd;transform:translate(0.14px,0.01px) rotate(0.03deg) scale(1.0526,1.0457);">works</div>
<div class="t" style="left:131px;top:411px;font-size:18.2px;color:#cdcdcd;transform:translate(-0.50px,0.31px) rotate(0.03deg) scale(1.0153,1.0515);">*Edges highlight the most favorable products at the moment.</div>
<div class="t" style="left:1438px;top:2px;font-size:17.5px;color:#ffffff;font-weight:700;transform:translate(-0.69px,0.44px) rotate(0.03deg) scale(0.9928,1.0397);">Last Update</div>
<div class="t" style="left:1440px;top:31px;font-size:17.5px;color:#ffffff;font-weight:700;transform:translate(-0.73px,0.24px) rotate(0.03deg) scale(1.0108,1.0397);">quarta-feira, 12 de...</div>
<div class="t" style="left:767px;top:65px;font-size:18px;color:#ffffff;font-weight:700;transform:translate(-0.62px,0.49px) rotate(0.03deg) scale(0.9539,1.0089);">Historical Parity</div>
<div class="t" style="left:767px;top:96px;font-size:19px;color:#a3a3a3;transform:translate(-0.90px,0.49px) rotate(0.03deg) scale(1.0801,1.0130);">c/lb</div>
<div class="t" style="left:773px;top:130px;font-size:15.5px;color:#cdcdcd;transform:translate(-0.38px,0.49px) rotate(0.03deg) scale(1.0809,1.0175);">20</div>
<div class="t" style="left:775px;top:208px;font-size:15.5px;color:#cdcdcd;transform:translate(-1.15px,0.99px) rotate(0.03deg) scale(0.9973,1.0175);">10</div>
<div class="t" style="left:782px;top:287px;font-size:15.5px;color:#cdcdcd;transform:translate(-0.66px,0.49px) rotate(0.03deg) scale(1.1529,1.0175);">0</div>
<div class="t" style="left:767px;top:366px;font-size:15.5px;color:#cdcdcd;transform:translate(-0.53px,0.19px) rotate(0.03deg) scale(1.0939,1.0175);">-10</div>
<div class="t" style="left:28px;top:465px;font-size:18px;color:#ffffff;font-weight:700;transform:translate(-0.37px,0.69px) rotate(0.03deg) scale(0.9349,1.0089);">Historical Prices</div>
<div class="t" style="left:28px;top:496px;font-size:19px;color:#a3a3a3;transform:translate(-0.76px,0.49px) rotate(0.03deg) scale(1.0736,1.0130);">c/lb</div>
<div class="t" style="left:508px;top:539px;font-size:15.5px;color:#cdcdcd;transform:translate(-0.80px,0.74px) rotate(0.03deg) scale(1.0790,1.0319);">Sugar No11+Pol+Differential</div>
<div class="t" style="left:742px;top:539px;font-size:15.5px;color:#cdcdcd;transform:translate(-0.29px,0.74px) rotate(0.03deg) scale(1.0464,1.0319);">Hydrous Ethanol</div>
<div class="t" style="left:917px;top:485px;font-size:17px;color:#cdcdcd;transform:translate(-0.66px,0.01px) rotate(0.03deg) scale(1.0716,1.0504);">Brazilian mills produce both ethanol and sugar from cane. The choice of production is</div>
<div class="t" style="left:1063px;top:510px;font-size:17px;color:#cdcdcd;transform:translate(-0.86px,0.21px) rotate(0.03deg) scale(1.0829,1.0504);">based on which product provides the best return.</div>
<div class="t" style="left:914px;top:580px;font-size:23px;color:#ffffff;-webkit-text-stroke:0.79px #ffffff;transform:translate(-0.91px,0.04px) rotate(0.03deg) scale(1.1182,1.0468);">Parity</div>
<div class="t" style="left:913px;top:618px;font-size:19px;color:#a3a3a3;transform:translate(-0.14px,0.69px) rotate(0.03deg) scale(1.0697,1.0130);">c/lb</div>
<div class="t" style="left:1006px;top:687px;font-size:69.5px;color:#d0dc33;-webkit-text-stroke:2.4px #d0dc33;transform:translate(-2.01px,0.19px) rotate(0.03deg) scale(0.9790,1.0354);">2</div>
<div class="t" style="left:1197px;top:598px;font-size:23px;color:#cdcdcd;transform:translate(-1.80px,0.21px) rotate(0.03deg) scale(1.0263,1.0426);">Parity between sugar and ethanol is the</div>
<div class="t" style="left:1216px;top:629px;font-size:23px;color:#cdcdcd;transform:translate(-0.28px,0.01px) rotate(0.03deg) scale(1.0358,1.0426);">difference between No.11 price and</div>
<div class="t" style="left:1201px;top:659px;font-size:23px;color:#cdcdcd;transform:translate(-1.05px,0.81px) rotate(0.03deg) scale(1.0302,1.0426);">domestic hydrous price at No.11 basis.</div>
<div class="t" style="left:1250px;top:690px;font-size:23px;color:#cdcdcd;transform:translate(-0.22px,0.61px) rotate(0.03deg) scale(1.0173,1.0426);">When parity is positive, sugar</div>
<div class="t" style="left:1208px;top:721px;font-size:23px;color:#cdcdcd;transform:translate(-0.72px,0.41px) rotate(0.03deg) scale(1.0447,1.0426);">production is favoured and when it is</div>
<div class="t" style="left:1252px;top:752px;font-size:23px;color:#cdcdcd;transform:translate(-1.18px,0.21px) rotate(0.03deg) scale(1.0341,1.0426);">negative ethanol is favoured.</div>
<div class="t" style="left:840px;top:381px;font-size:15.5px;color:#cdcdcd;transform:translate(0.14px,0.49px) rotate(0.03deg) scale(1.0406,1.0175);">2012</div>
<div class="t" style="left:945px;top:381px;font-size:15.5px;color:#cdcdcd;transform:translate(0.15px,0.49px) rotate(0.03deg) scale(1.0326,1.0175);">2014</div>
<div class="t" style="left:1051px;top:381px;font-size:15.5px;color:#cdcdcd;transform:translate(-0.39px,0.49px) rotate(0.03deg) scale(1.0378,1.0175);">2016</div>
<div class="t" style="left:1156px;top:381px;font-size:15.5px;color:#cdcdcd;transform:translate(-0.39px,0.49px) rotate(0.03deg) scale(1.0379,1.0175);">2018</div>
<div class="t" style="left:1261px;top:381px;font-size:15.5px;color:#cdcdcd;transform:translate(-0.37px,0.49px) rotate(0.03deg) scale(1.0353,1.0175);">2020</div>
<div class="t" style="left:1366px;top:381px;font-size:15.5px;color:#cdcdcd;transform:translate(-0.39px,0.49px) rotate(0.03deg) scale(1.0421,1.0175);">2022</div>
<div class="t" style="left:1471px;top:381px;font-size:15.5px;color:#cdcdcd;transform:translate(-0.38px,0.49px) rotate(0.03deg) scale(1.0371,1.0175);">2024</div>
<div class="t" style="left:107px;top:743px;font-size:15.5px;color:#cdcdcd;transform:translate(-0.39px,0.69px) rotate(0.03deg) scale(1.0421,1.0175);">2012</div>
<div class="t" style="left:212px;top:743px;font-size:15.5px;color:#cdcdcd;transform:translate(-0.93px,0.69px) rotate(0.03deg) scale(1.0392,1.0175);">2014</div>
<div class="t" style="left:316px;top:743px;font-size:15.5px;color:#cdcdcd;transform:translate(-0.15px,0.69px) rotate(0.03deg) scale(1.0452,1.0175);">2016</div>
<div class="t" style="left:421px;top:743px;font-size:15.5px;color:#cdcdcd;transform:translate(-0.39px,0.69px) rotate(0.03deg) scale(1.0379,1.0175);">2018</div>
<div class="t" style="left:525px;top:743px;font-size:15.5px;color:#cdcdcd;transform:translate(-0.04px,0.69px) rotate(0.03deg) scale(1.0412,1.0175);">2020</div>
<div class="t" style="left:630px;top:743px;font-size:15.5px;color:#cdcdcd;transform:translate(-0.16px,0.69px) rotate(0.03deg) scale(1.0422,1.0175);">2022</div>
<div class="t" style="left:735px;top:743px;font-size:15.5px;color:#cdcdcd;transform:translate(-0.58px,0.69px) rotate(0.03deg) scale(1.0389,1.0175);">2024</div>
<div class="t" style="left:27px;top:569px;font-size:15.5px;color:#cdcdcd;transform:translate(-0.26px,0.79px) rotate(0.03deg) scale(1.0620,1.0175);">40</div>
<div class="t" style="left:27px;top:648px;font-size:15.5px;color:#cdcdcd;transform:translate(-0.41px,0.59px) rotate(0.03deg) scale(1.0788,1.0175);">20</div>
<div class="t" style="left:36px;top:727px;font-size:15.5px;color:#cdcdcd;transform:translate(-0.65px,0.79px) rotate(0.03deg) scale(1.1481,1.0175);">0</div>
</div>
</body></html>
